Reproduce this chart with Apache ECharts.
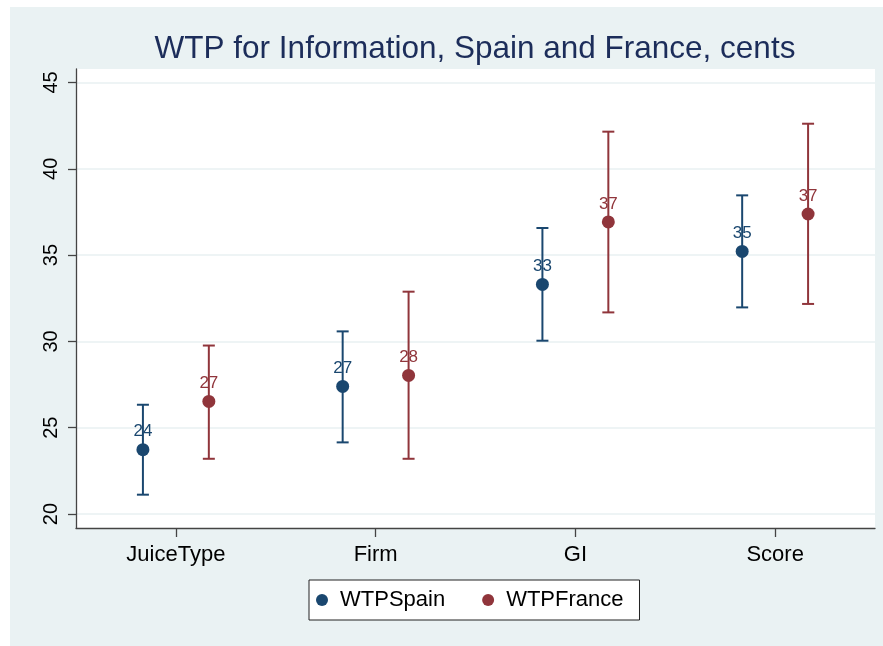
<!DOCTYPE html>
<html>
<head>
<meta charset="utf-8">
<script src="https://cdn.jsdelivr.net/npm/echarts@6/dist/echarts.min.js"></script>
<style>
html,body{margin:0;padding:0;background:#fff;}
#bg{position:absolute;left:10px;top:7px;width:873px;height:639px;background:#eaf2f3;}
#chart{position:absolute;left:0;top:0;width:883px;height:646px;}
</style>
</head>
<body>
<div id="bg"></div>
<div id="chart"></div>
<script>
const categories = ['JuiceType', 'Firm', 'GI', 'Score'];
const spainMean = [23.73, 27.39, 33.30, 35.21];
const spainLow = [21.12, 24.15, 30.04, 31.97];
const spainHigh = [26.33, 30.58, 36.57, 38.46];
const franceMean = [26.52, 28.03, 36.92, 37.38];
const franceLow = [23.20, 23.20, 31.68, 32.17];
const franceHigh = [29.76, 32.88, 42.15, 42.61];
const yTicks = [20, 25, 30, 35, 40, 45];
const xTicks = [0, 1, 2, 3];

const SPAIN = '#1a476f';
const FRANCE = '#90353b';
const OFFSET = 0.165;
const FONT = '"Liberation Sans", Arial, sans-serif';

function pts(mean, shift) {
  return mean.map((v, i) => [i + shift, v]);
}
function bars(low, high, shift) {
  return low.map((v, i) => [i + shift, v, high[i]]);
}
function errRender(color) {
  return function (params, api) {
    const x = api.value(0);
    const lo = api.coord([x, api.value(1)]);
    const hi = api.coord([x, api.value(2)]);
    const w = 6;
    const style = { stroke: color, lineWidth: 2 };
    return {
      type: 'group',
      children: [
        { type: 'line', shape: { x1: lo[0], y1: lo[1], x2: hi[0], y2: hi[1] }, style },
        { type: 'line', shape: { x1: lo[0] - w, y1: lo[1], x2: lo[0] + w, y2: lo[1] }, style },
        { type: 'line', shape: { x1: hi[0] - w, y1: hi[1], x2: hi[0] + w, y2: hi[1] }, style }
      ]
    };
  };
}

const chart = echarts.init(document.getElementById('chart'), null, { renderer: 'canvas' });
chart.setOption({
  backgroundColor: 'transparent',
  animation: false,
  title: {
    text: 'WTP for Information, Spain and France, cents',
    left: 470,
    textAlign: 'center',
    top: 28,
    textStyle: { fontFamily: FONT, fontSize: 31.5, fontWeight: 'normal', color: '#1c2d5a' }
  },
  legend: {
    data: ['WTPSpain', 'WTPFrance'],
    left: 309,
    top: 580,
    padding: [9, 16, 9, 7],
    backgroundColor: '#fff',
    borderColor: '#222',
    borderWidth: 1,
    itemWidth: 12,
    itemHeight: 12,
    itemGap: 37,
    icon: 'circle',
    textStyle: { fontFamily: FONT, fontSize: 22, color: '#000', padding: [0, 0, 0, 7] }
  },
  grid: {
    left: 76, right: 8, top: 69, bottom: 118,
    show: true, backgroundColor: '#fff', borderWidth: 0,
    containLabel: false
  },
  xAxis: {
    type: 'value',
    min: -0.5, max: 3.5,
    axisLine: { show: true, onZero: false, lineStyle: { color: '#444', width: 1.3 } },
    axisTick: { show: true, customValues: xTicks, length: 9, lineStyle: { color: '#444', width: 1.3 } },
    axisLabel: {
      customValues: xTicks,
      formatter: v => categories[Math.round(v)],
      fontFamily: FONT, fontSize: 22, color: '#000', margin: 16
    },
    splitLine: { show: false }
  },
  yAxis: {
    type: 'value',
    min: 19.19, max: 45.78,
    axisLine: { show: true, onZero: false, lineStyle: { color: '#444', width: 1.3 } },
    axisTick: { show: true, customValues: yTicks, length: 8, lineStyle: { color: '#444', width: 1.3 } },
    axisLabel: {
      customValues: yTicks,
      rotate: 90,
      fontFamily: FONT, fontSize: 20, color: '#000', margin: 15
    },
    splitLine: { show: true, lineStyle: { color: '#e8f0f2', width: 1.5 } }
  },
  series: [
    {
      name: 'WTPSpain', type: 'scatter', z: 2,
      symbolSize: 13, itemStyle: { color: SPAIN, opacity: 1 },
      data: pts(spainMean, -OFFSET),
      label: {
        show: true, position: 'top', distance: 3,
        formatter: p => String(Math.round(p.value[1])),
        fontFamily: FONT, fontSize: 17, color: SPAIN
      }
    },
    {
      name: 'WTPFrance', type: 'scatter', z: 2,
      symbolSize: 13, itemStyle: { color: FRANCE, opacity: 1 },
      data: pts(franceMean, OFFSET),
      label: {
        show: true, position: 'top', distance: 3,
        formatter: p => String(Math.round(p.value[1])),
        fontFamily: FONT, fontSize: 17, color: FRANCE
      }
    },
    {
      name: 'SpainCI', type: 'custom', z: 5,
      renderItem: errRender(SPAIN),
      encode: { x: 0, y: [1, 2] },
      data: bars(spainLow, spainHigh, -OFFSET)
    },
    {
      name: 'FranceCI', type: 'custom', z: 5,
      renderItem: errRender(FRANCE),
      encode: { x: 0, y: [1, 2] },
      data: bars(franceLow, franceHigh, OFFSET)
    }
  ]
});
</script>
</body>
</html>
